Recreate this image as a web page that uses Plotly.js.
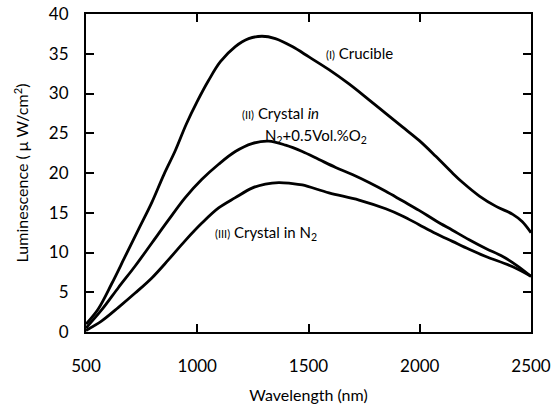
<!DOCTYPE html>
<html>
<head>
<meta charset="utf-8">
<script src="https://cdn.plot.ly/plotly-3.0.1.min.js"></script>
<style>html,body{margin:0;padding:0;background:#fff;}#chart{width:558px;height:407px;}</style>
</head>
<body>
<div id="chart"></div>
<script>
// Curve (I) Crucible
var crucibleNm  = [500, 555, 616, 676, 736, 796, 850, 901, 950, 1000, 1050, 1104, 1171, 1231, 1291, 1351, 1427, 1502, 1592, 1682, 1772, 1847, 1922, 1997, 2072, 2147, 2193, 2268, 2343, 2418, 2460, 2500];
var crucibleVal = [1.0, 2.9, 6.1, 9.5, 12.9, 16.3, 19.8, 22.8, 26.1, 29.0, 31.6, 34.0, 35.9, 36.9, 37.2, 36.9, 35.9, 34.6, 33.0, 31.2, 29.2, 27.5, 25.8, 24.1, 22.1, 20.0, 18.8, 17.1, 15.8, 14.8, 13.9, 12.5];
// Curve (II) Crystal in N2 + 0.5 Vol.% O2
var crystalO2Nm  = [500, 571, 646, 721, 796, 871, 946, 1021, 1096, 1171, 1246, 1321, 1397, 1472, 1547, 1622, 1697, 1772, 1847, 1922, 1997, 2072, 2147, 2222, 2297, 2373, 2440, 2500];
var crystalO2Val = [0.5, 2.8, 5.6, 8.3, 11.2, 14.1, 16.9, 19.2, 21.1, 22.7, 23.7, 24.0, 23.5, 22.7, 21.7, 20.7, 19.8, 18.8, 17.7, 16.5, 15.3, 14.0, 12.8, 11.6, 10.5, 9.5, 8.3, 7.0];
// Curve (III) Crystal in N2
var crystalN2Nm  = [500, 571, 646, 721, 796, 871, 946, 1021, 1096, 1171, 1246, 1306, 1366, 1420, 1472, 1592, 1727, 1847, 1922, 1997, 2072, 2147, 2222, 2297, 2418, 2500];
var crystalN2Val = [0.2, 1.4, 3.1, 4.9, 6.8, 9.1, 11.5, 13.7, 15.6, 16.9, 18.1, 18.6, 18.8, 18.7, 18.5, 17.5, 16.6, 15.5, 14.6, 13.5, 12.4, 11.4, 10.4, 9.5, 8.2, 7.0];

var xTicks = [500, 1000, 1500, 2000, 2500];
var yTicks = [0, 5, 10, 15, 20, 25, 30, 35, 40];

var lineStyle = {color: '#000', width: 2.8, shape: 'spline', smoothing: 1.0};
var traces = [
  {x: crucibleNm, y: crucibleVal, mode: 'lines', line: lineStyle, name: '(I) Crucible'},
  {x: crystalO2Nm, y: crystalO2Val, mode: 'lines', line: lineStyle, name: '(II)'},
  {x: crystalN2Nm, y: crystalN2Val, mode: 'lines', line: lineStyle, name: '(III)'}
];

var fam = 'Lato, "Open Sans", sans-serif';
var layout = {
  width: 558, height: 407,
  margin: {l: 86, r: 27, t: 14, b: 75},
  paper_bgcolor: '#fff', plot_bgcolor: '#fff',
  showlegend: false,
  font: {family: fam, color: '#000', size: 16},
  xaxis: {
    range: [500, 2500], tickvals: xTicks, ticktext: xTicks.map(String),
    ticks: 'inside', ticklen: 8, tickwidth: 2, tickcolor: '#000',
    showline: true, linewidth: 2, linecolor: '#000', mirror: 'ticks',
    showgrid: false, zeroline: false,
    tickfont: {family: fam, size: 17, color: '#000'},
    ticklabelstandoff: 18,
    title: {text: 'Wavelength (nm)', font: {family: fam, size: 16, color: '#000'}, standoff: 14}
  },
  yaxis: {
    range: [0, 40], tickvals: yTicks, ticktext: yTicks.map(String),
    ticks: 'inside', ticklen: 8, tickwidth: 2, tickcolor: '#000',
    showline: true, linewidth: 2, linecolor: '#000', mirror: 'ticks',
    showgrid: false, zeroline: false,
    tickfont: {family: fam, size: 17, color: '#000'},
    ticklabelstandoff: 12,
    title: {text: 'Luminescence ( \u03BC W/cm<sup>2</sup>)', font: {family: fam, size: 16, color: '#000'}, standoff: 16}
  },
  annotations: [
    {xref: 'paper', yref: 'paper', x: (324-86)/445, y: (332-53)/318, xanchor: 'left', yanchor: 'middle', showarrow: false,
     text: '<span style="font-size:11px">(I)</span> Crucible', font: {family: fam, size: 15, color: '#000'}},
    {xref: 'paper', yref: 'paper', x: (240-86)/445, y: (332-113)/318, xanchor: 'left', yanchor: 'middle', showarrow: false,
     text: '<span style="font-size:11px">(II)</span> Crystal <i>in</i>', font: {family: fam, size: 15, color: '#000'}},
    {xref: 'paper', yref: 'paper', x: (263-86)/445, y: (332-136)/318, xanchor: 'left', yanchor: 'middle', showarrow: false,
     text: 'N<sub>2</sub>+0.5Vol.%O<sub>2</sub>', font: {family: fam, size: 15, color: '#000'}},
    {xref: 'paper', yref: 'paper', x: (213-86)/445, y: (332-233)/318, xanchor: 'left', yanchor: 'middle', showarrow: false,
     text: '<span style="font-size:11px">(III)</span> Crystal in N<sub>2</sub>', font: {family: fam, size: 15, color: '#000'}}
  ]
};

Plotly.newPlot('chart', traces, layout, {staticPlot: true, displayModeBar: false});
</script>
</body>
</html>
